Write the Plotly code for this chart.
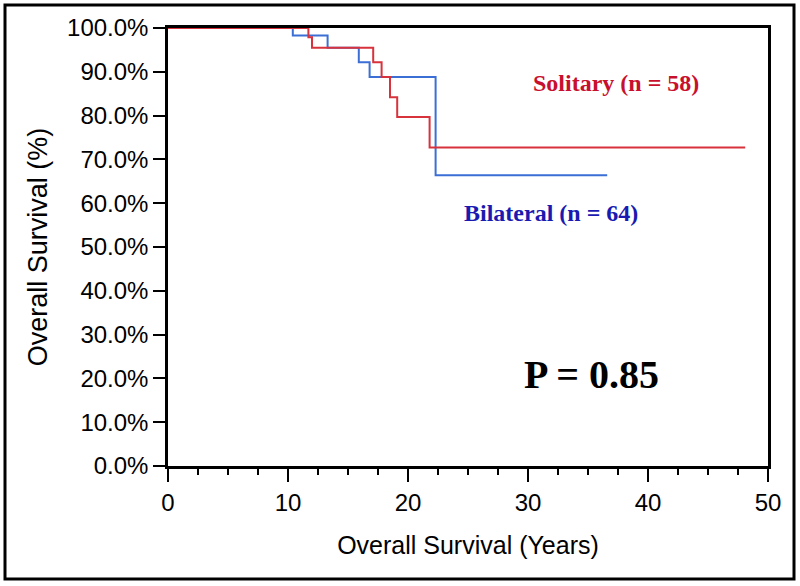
import plotly.graph_objects as go

# Kaplan-Meier step data (years, survival fraction)
solitary_t = [0, 11.7, 12.0, 17.1, 17.8, 18.5, 19.1, 21.8, 48.1]
solitary_s = [1.0, 0.979, 0.955, 0.922, 0.888, 0.842, 0.797, 0.727, 0.727]

bilateral_t = [0, 10.4, 13.3, 15.9, 16.8, 22.3, 36.6]
bilateral_s = [1.0, 0.983, 0.955, 0.922, 0.888, 0.664, 0.664]

x_ticks = [0, 10, 20, 30, 40, 50]
y_ticks = [0, 0.1, 0.2, 0.3, 0.4, 0.5, 0.6, 0.7, 0.8, 0.9, 1.0]

RED = "#d8323c"
BLUE = "#3b6fd6"

fig = go.Figure()
fig.add_trace(go.Scatter(x=bilateral_t, y=bilateral_s, mode="lines", line_shape="hv",
                         line=dict(color=BLUE, width=2), name="Bilateral"))
fig.add_trace(go.Scatter(x=solitary_t, y=solitary_s, mode="lines", line_shape="hv",
                         line=dict(color=RED, width=2), name="Solitary"))

L, R, T, B = 168, 32, 28, 120
W, H = 800, 586
pw, ph = W - L - R, H - T - B

def px2paper(x, y):
    return (x - L) / pw, (H - B - y) / ph

tick_font = dict(family="Liberation Sans, Arial", size=24, color="black")

fig.update_layout(
    width=W, height=H,
    margin=dict(l=L, r=R, t=T, b=B),
    paper_bgcolor="white", plot_bgcolor="white",
    showlegend=False,
    xaxis=dict(range=[0, 50], tickvals=x_ticks, ticks="outside", ticklen=13, tickwidth=2,
               tickcolor="black", showline=True, linecolor="black", linewidth=2.5, mirror=True,
               showgrid=False, zeroline=False, tickfont=tick_font,
               minor=dict(dtick=2.5, ticks="outside", ticklen=6, tickwidth=2, tickcolor="black"),
               title=dict(text="Overall Survival (Years)", standoff=22,
                          font=dict(family="Liberation Sans, Arial", size=25, color="black"))),
    yaxis=dict(range=[0, 1], tickvals=y_ticks, tickformat=".1%", ticks="outside", ticklen=12,
               tickwidth=2, tickcolor="black", showline=True, linecolor="black", linewidth=2.5,
               mirror=True, showgrid=False, zeroline=False, tickfont=tick_font,
               title=dict(text="Overall Survival (%)", standoff=12,
                          font=dict(family="Liberation Sans, Arial", size=27, color="black"))),
)

x0, y0 = px2paper(5, 579)
x1, y1 = px2paper(794, 5)
fig.add_shape(type="rect", xref="paper", yref="paper", x0=x0, y0=y0, x1=x1, y1=y1,
              line=dict(color="black", width=3), fillcolor="rgba(0,0,0,0)")

serif = "Liberation Serif, Times New Roman, serif"
ax, ay = px2paper(616, 83)
fig.add_annotation(xref="paper", yref="paper", x=ax, y=ay, text="<b>Solitary (n = 58)</b>",
                   xanchor="center", yanchor="middle",
                   showarrow=False, font=dict(family=serif, size=24, color="#c8102e"))
ax, ay = px2paper(551, 213)
fig.add_annotation(xref="paper", yref="paper", x=ax, y=ay, text="<b>Bilateral (n = 64)</b>",
                   xanchor="center", yanchor="middle",
                   showarrow=False, font=dict(family=serif, size=24, color="#1a1ab0"))
ax, ay = px2paper(591, 374)
fig.add_annotation(xref="paper", yref="paper", x=ax, y=ay, text="<b>P = 0.85</b>",
                   xanchor="center", yanchor="middle",
                   showarrow=False, font=dict(family=serif, size=40, color="black"))

fig.write_html("out.html", config={"displayModeBar": False},
               post_script="document.body.style.margin='0';document.body.style.overflow='hidden';")
